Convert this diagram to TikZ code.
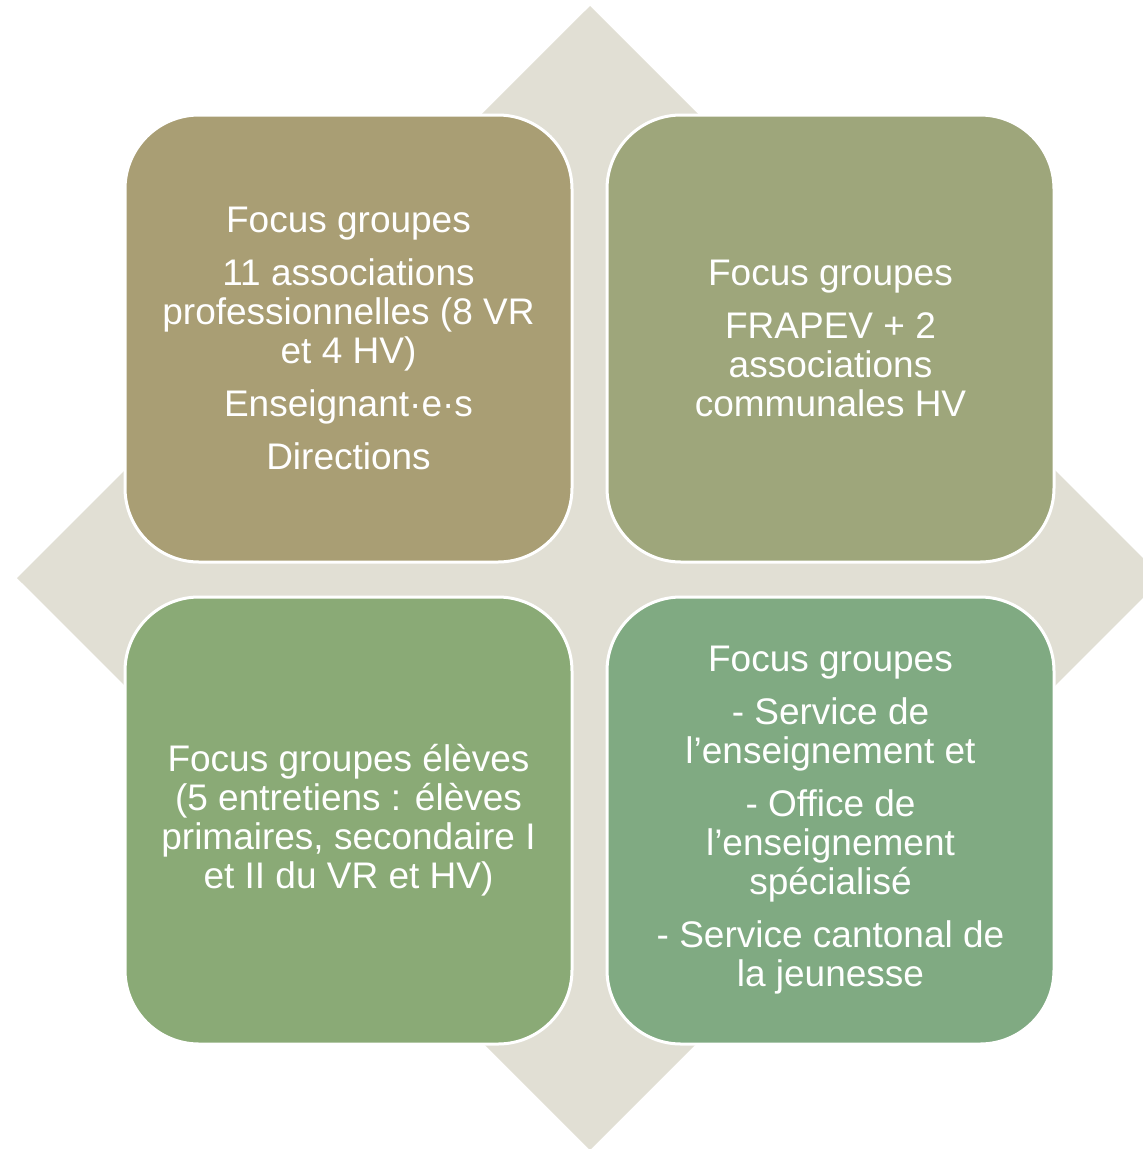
\documentclass[tikz,border=0pt]{standalone}
\usepackage{fontspec}
\setmainfont{Liberation Sans}
\usepackage{tikz}
\usetikzlibrary{positioning,calc}
\tikzset{
backdrop/.style={fill={rgb,255:red,225;green,223;blue,212}},
tanbox/.style={fill={rgb,255:red,169;green,158;blue,116}},
olivebox/.style={fill={rgb,255:red,158;green,166;blue,123}},
leafbox/.style={fill={rgb,255:red,138;green,170;blue,118}},
sagebox/.style={fill={rgb,255:red,128;green,170;blue,130}},
quad/.style={draw=white,line width=3pt,rounded corners=74pt,minimum width=447pt,minimum height=447pt,
  inner sep=0pt,align=center,text=white,font=\fontsize{37}{39}\selectfont},
}
\newcommand{\pgap}{\\[14pt]}

\begin{document}
\begin{tikzpicture}[x=1pt,y=-1pt]
        \useasboundingbox (0,0) rectangle (1143,1149);
        \clip (0,0) rectangle (1143,1149);

        % background diamond
        \draw[backdrop,draw=none] (590,6) -- (1163,578) -- (590,1150) -- (17,578) -- cycle;

        % four quadrants
        \node[quad,tanbox] (staff) at (348.5,338.5)
            {Focus groupes\pgap 11 associations\\professionnelles (8 VR\\et 4 HV)\pgap
             Enseignant·e·s\pgap Directions};
        \node[quad,olivebox,right=32pt of staff] (parents)
            {Focus groupes\pgap FRAPEV + 2\\associations\\communales HV};
        \node[quad,leafbox,below=32pt of staff] (pupils)
            {Focus groupes élèves\\(5 entretiens : élèves\\primaires, secondaire I\\et II du VR et HV)};
        \node[quad,sagebox,below=32pt of parents] (services)
            {Focus groupes\pgap - Service de\\l’enseignement et\pgap - Office de\\l’enseignement\\spécialisé\pgap
             - Service cantonal de\\la jeunesse};
    \end{tikzpicture}
\end{document}
